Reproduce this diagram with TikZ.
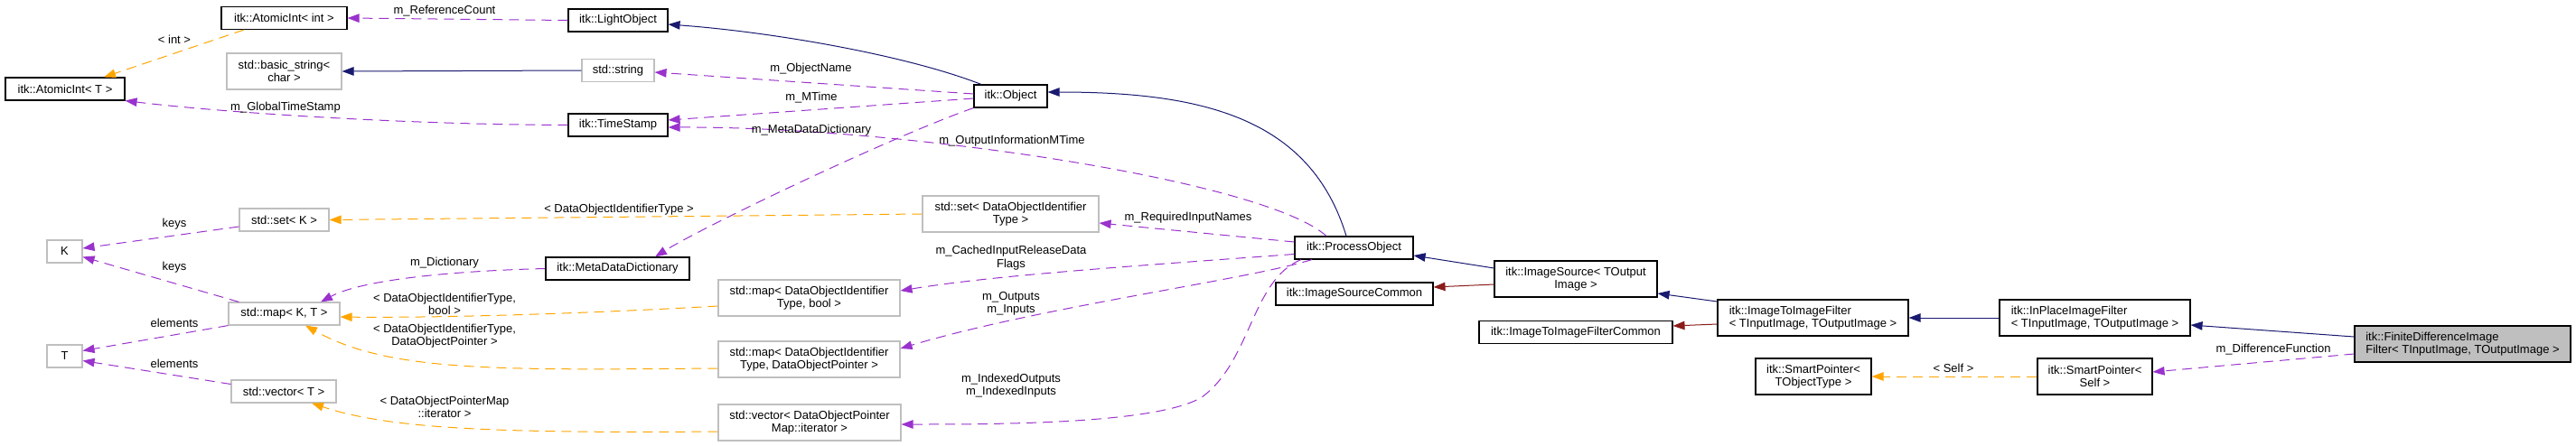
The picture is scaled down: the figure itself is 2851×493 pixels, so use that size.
\documentclass[tikz,border=0pt]{standalone}
\usepackage{fontspec}
\setmainfont{Liberation Sans}
\usetikzlibrary{arrows.meta,calc}
\definecolor{navyc}{HTML}{191970}
\definecolor{purplec}{HTML}{9A32CD}
\definecolor{orangec}{HTML}{FFA500}
\definecolor{redc}{HTML}{8B1A1A}
\definecolor{greyb}{HTML}{BFBFBF}
\begin{document}
\begin{tikzpicture}[x=1pt,y=-1pt,
  font=\fontsize{13}{14.5}\selectfont,
  cls/.style={draw=black, line width=1.1pt, fill=white, inner sep=0pt, align=center, minimum height=25pt},
  ucls/.style={cls, draw=greyb},
  lcls/.style={cls, align=left},
  lbl/.style={inner sep=0pt, align=center},
  tip/.style={-{Triangle[length=13pt,width=9.5pt]}},
  inh/.style={tip, draw=navyc, line width=1pt},
  priv/.style={tip, draw=redc, line width=1pt},
  mem/.style={tip, draw=purplec, line width=1pt, dash pattern=on 11pt off 7pt},
  tmpl/.style={tip, draw=orangec, line width=1pt, dash pattern=on 11pt off 7pt}]
\useasboundingbox (0,0) rectangle (2851,493);
% nodes
\node[cls, minimum width=132pt] (aiT) at (72,98.5) {itk::AtomicInt< T >};
\node[ucls, minimum width=39pt] (K) at (71.5,278.5) {K};
\node[ucls, minimum width=39pt] (T) at (71.5,394.5) {T};
\node[cls, minimum width=139pt] (aiInt) at (314.5,20) {itk::AtomicInt< int >};
\node[ucls, minimum width=127pt, minimum height=40pt] (bstr) at (314.5,79) {std::basic\_string<\\char >};
\node[ucls, minimum width=99pt] (setK) at (314.5,243.5) {std::set< K >};
\node[ucls, minimum width=123pt] (mapKT) at (314.5,347.5) {std::map< K, T >};
\node[ucls, minimum width=116pt] (vecT) at (314,433.5) {std::vector< T >};
\node[cls, minimum width=110pt] (light) at (684,22.5) {itk::LightObject};
\node[ucls, minimum width=80pt] (str) at (684,78) {std::string};
\node[cls, minimum width=110pt] (ts) at (684,138.5) {itk::TimeStamp};
\node[cls, minimum width=159pt] (mdd) at (683.5,297.5) {itk::MetaDataDictionary};
\node[ucls, minimum width=201pt, minimum height=40pt] (mapB) at (895.5,330) {std::map< DataObjectIdentifier\\Type, bool >};
\node[ucls, minimum width=201pt, minimum height=40pt] (mapP) at (895.5,398) {std::map< DataObjectIdentifier\\Type, DataObjectPointer >};
\node[ucls, minimum width=202pt, minimum height=40pt] (vecP) at (896,468) {std::vector< DataObjectPointer\\Map::iterator >};
\node[cls, minimum width=81pt] (obj) at (1118.5,106.5) {itk::Object};
\node[ucls, minimum width=195pt, minimum height=40pt] (setD) at (1118.5,237) {std::set< DataObjectIdentifier\\Type >};
\node[cls, minimum width=131pt] (po) at (1498.5,274.5) {itk::ProcessObject};
\node[cls, minimum width=174pt] (isc) at (1499,325.5) {itk::ImageSourceCommon};
\node[cls, minimum width=180pt, minimum height=40pt] (is) at (1744,309) {itk::ImageSource< TOutput\\Image >};
\node[cls, minimum width=214pt] (itifc) at (1744,368) {itk::ImageToImageFilterCommon};
\node[lcls, minimum width=211pt, minimum height=40pt] (itif) at (2006.5,352) {itk::ImageToImageFilter\\< TInputImage, TOutputImage >};
\node[cls, minimum width=128pt, minimum height=40pt] (spT) at (2007,417) {itk::SmartPointer<\\TObjectType >};
\node[lcls, minimum width=211pt, minimum height=40pt] (inplace) at (2318.5,352) {itk::InPlaceImageFilter\\< TInputImage, TOutputImage >};
\node[cls, minimum width=127pt, minimum height=40pt] (spS) at (2318.5,417) {itk::SmartPointer<\\Self >};
\node[lcls, fill=greyb, minimum width=239pt, minimum height=40pt] (fd) at (2725.5,381) {itk::FiniteDifferenceImage\\Filter< TInputImage, TOutputImage >};
% edges
\draw[mem] (light.west) -- (aiInt.east);
\draw[tmpl] ($(aiInt.south)+(-44.5,0)$) -- ($(aiT.north)+(43,0)$);
\draw[inh] (str.west) -- (bstr.east);
\draw[mem] (ts.west) .. controls (450,138) and (250,125) .. (aiT.south east);
\draw[inh] ($(obj.north)+(-32.5,0)$) .. controls (1000,60) and (850,35) .. ($(light.east)+(0,4.5)$);
\draw[mem] ($(obj.west)+(0,-2.5)$) -- ($(str.east)+(0,2)$);
\draw[mem] ($(obj.west)+(0,2.5)$) -- ($(ts.east)+(0,-5.5)$);
\draw[mem] (obj.south west) .. controls (990,150) and (780,250) .. ($(mdd.north)+(41.5,0)$);
\draw[mem] ($(po.north)+(-30.5,0)$) .. controls (1400,200) and (1000,140) .. ($(ts.east)+(0,2.5)$);
\draw[inh] ($(po.north)+(-8.5,0)$) .. controls (1450,130) and (1330,102) .. ($(obj.east)+(0,-4.5)$);
\draw[mem] ($(po.west)+(0,-6.5)$) -- ($(setD.east)+(0,10)$);
\draw[tmpl] (setD.west) -- (setK.east);
\draw[mem] ($(setK.west)+(0,7.5)$) -- ($(K.east)+(0,-3.5)$);
\draw[mem] ($(mapKT.north west)+(12,0)$) -- ($(K.east)+(0,6)$);
\draw[mem] (mapKT.south west) -- ($(T.east)+(0,-6)$);
\draw[mem] ($(vecT.west)+(0,-8)$) -- ($(T.east)+(0,5)$);
\draw[mem] (mdd.west) .. controls (500,300) and (400,310) .. ($(mapKT.north)+(40.5,0)$);
\draw[tmpl] ($(mapB.west)+(0,9)$) .. controls (600,350) and (450,352) .. ($(mapKT.east)+(0,3.5)$);
\draw[tmpl] ($(mapP.west)+(0,10)$) .. controls (550,410) and (430,412) .. ($(mapKT.south)+(23.5,0)$);
\draw[tmpl] ($(vecP.west)+(0,10)$) .. controls (550,480) and (430,475) .. ($(vecT.south)+(31,0)$);
\draw[mem] ($(po.west)+(0,7)$) .. controls (1250,295) and (1100,305) .. ($(mapB.east)+(0,-8)$);
\draw[mem] ($(po.south)+(-46.5,0)$) .. controls (1380,310) and (1150,340) .. ($(mapP.east)+(0,-12)$);
\draw[mem] ($(po.south)+(-58.5,0)$) .. controls (1385,310) and (1385,400) .. (1330,440) .. controls (1280,470) and (1100,470) .. ($(vecP.east)+(0,2)$);
\draw[inh] ($(is.west)+(0,-12)$) -- ($(po.east)+(0,8.5)$);
\draw[priv] ($(is.west)+(0,6)$) -- ($(isc.east)+(0,-7.5)$);
\draw[inh] ($(itif.west)+(0,-18)$) -- ($(is.east)+(0,16)$);
\draw[priv] ($(itif.west)+(0,7)$) -- ($(itifc.east)+(0,-7)$);
\draw[inh] (inplace.west) -- (itif.east);
\draw[inh] ($(fd.west)+(0,-8)$) -- ($(inplace.east)+(0,8)$);
\draw[mem] ($(fd.west)+(0,11)$) -- ($(spS.east)+(0,-5)$);
\draw[tmpl] (spS.west) -- (spT.east);
% labels
\node[lbl] (l1) at (492,11.7) {m\_ReferenceCount};
\node[lbl] (l2) at (193,43.7) {< int >};
\node[lbl] (l3) at (316,118.7) {m\_GlobalTimeStamp};
\node[lbl] (l4) at (193,248.3) {keys};
\node[lbl] (l5) at (193,295.7) {keys};
\node[lbl] (l6) at (193,358.3) {elements};
\node[lbl] (l7) at (193,403.3) {elements};
\node[lbl] (l8) at (897.4,76) {m\_ObjectName};
\node[lbl] (l9) at (898,107.7) {m\_MTime};
\node[lbl] (l10) at (898,144) {m\_MetaDataDictionary};
\node[lbl] (l11) at (1120,155.7) {m\_OutputInformationMTime};
\node[lbl] (l12) at (1315,240.7) {m\_RequiredInputNames};
\node[lbl] (l13) at (685,232.3) {< DataObjectIdentifierType >};
\node[lbl] (l14) at (492,290.7) {m\_Dictionary};
\node[lbl] (l15) at (492,336.7) {< DataObjectIdentifierType,\\bool >};
\node[lbl] (l16) at (492,372.3) {< DataObjectIdentifierType,\\DataObjectPointer >};
\node[lbl] (l17) at (492,451) {< DataObjectPointerMap\\::iterator >};
\node[lbl] (l18) at (1119,285.7) {m\_CachedInputReleaseData\\Flags};
\node[lbl] (l19) at (1119,336.3) {m\_Outputs\\m\_Inputs};
\node[lbl] (l20) at (1119,427) {m\_IndexedOutputs\\m\_IndexedInputs};
\node[lbl] (l21) at (2516,386.7) {m\_DifferenceFunction};
\node[lbl] (l22) at (2162,408.3) {< Self >};
\end{tikzpicture}
\end{document}
